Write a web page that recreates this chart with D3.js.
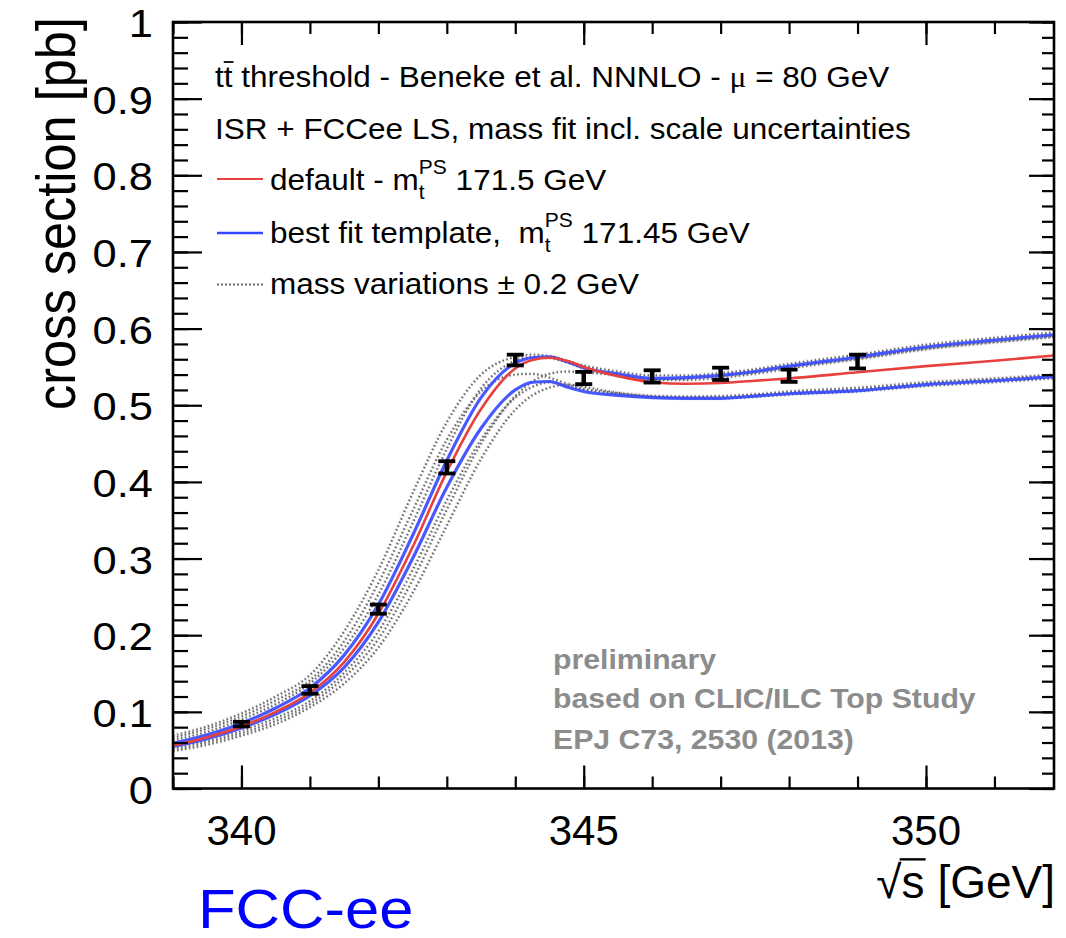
<!DOCTYPE html>
<html><head><meta charset="utf-8">
<script src="https://cdn.jsdelivr.net/npm/d3@7"></script>
<style>body{margin:0;background:#fff}svg{display:block}text{font-family:"Liberation Sans",Arial,sans-serif;white-space:pre}</style>
</head><body>
<svg id="c" width="1066" height="938"></svg>
<script>
// ---------------- data ----------------
const sGrid = [339,339.5,340,340.5,341,341.5,342,342.5,343,343.5,344,344.25,344.5,344.75,345,345.5,346,346.5,347,347.5,348,349,350,351,352];
const redDefault = [0.056,0.067,0.081,0.100,0.125,0.165,0.228,0.315,0.413,0.495,0.548,0.559,0.562,0.558,0.550,0.538,0.530,0.528,0.529,0.532,0.535,0.543,0.551,0.558,0.566];
const blueUpper  = [0.059,0.070,0.085,0.105,0.131,0.174,0.240,0.330,0.428,0.510,0.555,0.562,0.563,0.557,0.549,0.541,0.535,0.536,0.539,0.544,0.551,0.563,0.576,0.585,0.593];
const blueLower  = [0.055,0.065,0.079,0.097,0.121,0.158,0.217,0.300,0.393,0.470,0.520,0.530,0.531,0.524,0.518,0.513,0.510,0.509,0.509,0.512,0.515,0.519,0.527,0.532,0.538];
const massVarL3  = [0.069,0.081,0.098,0.120,0.148,0.205,0.285,0.385,0.478,0.540,0.563,0.566,0.564,0.558,0.552,0.544,0.539,0.539,0.542,0.547,0.554,0.566,0.579,0.588,0.596];
const massVarL2  = [0.066,0.078,0.094,0.115,0.141,0.192,0.268,0.362,0.455,0.518,0.540,0.541,0.536,0.528,0.521,0.515,0.512,0.511,0.512,0.514,0.518,0.523,0.530,0.535,0.541];
const massVarL1  = [0.063,0.074,0.090,0.110,0.137,0.183,0.253,0.346,0.443,0.522,0.558,0.563,0.562,0.556,0.548,0.539,0.533,0.533,0.536,0.541,0.548,0.560,0.573,0.582,0.590];
const massVarR1  = [0.053,0.062,0.075,0.092,0.114,0.151,0.205,0.285,0.376,0.455,0.510,0.524,0.530,0.526,0.521,0.516,0.512,0.511,0.511,0.514,0.517,0.521,0.529,0.534,0.540];
const massVarR2  = [0.051,0.060,0.072,0.088,0.110,0.145,0.195,0.272,0.364,0.450,0.512,0.531,0.541,0.544,0.543,0.539,0.534,0.535,0.538,0.543,0.550,0.561,0.574,0.583,0.591];
const massVarR3  = [0.049,0.057,0.069,0.084,0.106,0.137,0.184,0.255,0.343,0.430,0.494,0.513,0.523,0.527,0.524,0.516,0.511,0.509,0.509,0.511,0.514,0.518,0.525,0.530,0.536];
const massVars = [massVarL3, massVarL2, massVarL1, massVarR1, massVarR2, massVarR3];

const dataX   = [340,341,342,343,344,345,346,347,348,349];
const dataY   = [0.084,0.1286,0.234,0.419,0.559,0.5355,0.5376,0.541,0.5385,0.557];
const dataErr = [0.003,0.005,0.006,0.008,0.007,0.008,0.008,0.008,0.008,0.009];

const xDomain = [339, 351.87];
const yDomain = [0, 1];
const xMajorTicks = [340, 345, 350];
const xMinorTicks = [339,340,341,342,343,344,345,346,347,348,349,350,351];
const yMajorTicks = [0,0.1,0.2,0.3,0.4,0.5,0.6,0.7,0.8,0.9,1];
const yMinorTicks = d3.range(0, 51).map(i => i / 50);
const yTickLabels = ["0","0.1","0.2","0.3","0.4","0.5","0.6","0.7","0.8","0.9","1"];
const xTickLabels = ["340","345","350"];

// ---------------- layout ----------------
const L = 173, R = 1054, T = 22, B = 788.5;
const RED = "#e8403c", BLUE = "#3347ff", DOT = "#666666";
const svg = d3.select("#c");
const x = d3.scaleLinear().domain(xDomain).range([L, R]);
const y = d3.scaleLinear().domain(yDomain).range([B, T]);

function txt(parent, px, py, str, size, o = {}) {
  const t = parent.append("text")
    .attr("transform", `translate(${px},${py}) ${o.rot ? "rotate(-90) scale(1," + (o.sx || 1) + ")" : "scale(" + (o.sx || 1) + ",1)"}`)
    .attr("font-size", size)
    .attr("text-anchor", o.anchor || "start")
    .attr("fill", o.fill || "#000");
  if (o.weight) t.attr("font-weight", o.weight);
  if (str !== null) t.text(str);
  return t;
}

svg.append("defs").append("clipPath").attr("id", "clip")
  .append("rect").attr("x", L).attr("y", T).attr("width", R - L).attr("height", B - T);

const plot = svg.append("g").attr("clip-path", "url(#clip)");
const line = d3.line().x((d, i) => x(sGrid[i])).y(d => y(d)).curve(d3.curveMonotoneX);

// mass variation dotted curves
massVars.forEach(arr => {
  plot.append("path").attr("d", line(arr)).attr("fill", "none")
    .attr("stroke", "#b5b5b5").attr("stroke-width", 4.2).attr("stroke-opacity", 0.4)
    .attr("stroke-dasharray", "1.6 2.4");
  plot.append("path").attr("d", line(arr)).attr("fill", "none")
    .attr("stroke", DOT).attr("stroke-width", 1.9)
    .attr("stroke-dasharray", "1.6 2.4");
});
// blue templates
[blueUpper, blueLower].forEach(arr => {
  plot.append("path").attr("d", line(arr)).attr("fill", "none")
    .attr("stroke", BLUE).attr("stroke-width", 3.2).attr("stroke-opacity", 0.9);
});
// red default
plot.append("path").attr("d", line(redDefault)).attr("fill", "none")
  .attr("stroke", RED).attr("stroke-width", 2.6);

// data points with error bars
const pts = svg.append("g").attr("stroke", "#000").attr("stroke-width", 3.8);
dataX.forEach((s, i) => {
  const cx = x(s), y1 = y(dataY[i] + dataErr[i]), y2 = y(dataY[i] - dataErr[i]);
  pts.append("line").attr("x1", cx).attr("x2", cx).attr("y1", y1).attr("y2", y2).attr("stroke-width", 4.5);
  pts.append("line").attr("x1", cx - 8.5).attr("x2", cx + 8.5).attr("y1", y1).attr("y2", y1);
  pts.append("line").attr("x1", cx - 8.5).attr("x2", cx + 8.5).attr("y1", y2).attr("y2", y2);
});

// ---------------- axes ----------------
function styleAxis(g) { g.select(".domain").remove(); g.selectAll("line").attr("stroke", "#000").attr("stroke-width", 2.2); }
svg.append("g").attr("transform", `translate(0,${B})`).call(d3.axisBottom(x).tickValues(xMinorTicks).tickSize(-12).tickFormat("")).call(styleAxis);
svg.append("g").attr("transform", `translate(0,${B})`).call(d3.axisBottom(x).tickValues(xMajorTicks).tickSize(-23).tickFormat("")).call(styleAxis);
svg.append("g").attr("transform", `translate(0,${T})`).call(d3.axisTop(x).tickValues(xMinorTicks).tickSize(-12).tickFormat("")).call(styleAxis);
svg.append("g").attr("transform", `translate(0,${T})`).call(d3.axisTop(x).tickValues(xMajorTicks).tickSize(-23).tickFormat("")).call(styleAxis);
svg.append("g").attr("transform", `translate(${L},0)`).call(d3.axisLeft(y).tickValues(yMinorTicks).tickSize(-15).tickFormat("")).call(styleAxis);
svg.append("g").attr("transform", `translate(${L},0)`).call(d3.axisLeft(y).tickValues(yMajorTicks).tickSize(-29).tickFormat("")).call(styleAxis);
svg.append("g").attr("transform", `translate(${R},0)`).call(d3.axisRight(y).tickValues(yMinorTicks).tickSize(-12).tickFormat("")).call(styleAxis);
svg.append("g").attr("transform", `translate(${R},0)`).call(d3.axisRight(y).tickValues(yMajorTicks).tickSize(-25).tickFormat("")).call(styleAxis);
svg.append("rect").attr("x", L).attr("y", T).attr("width", R - L).attr("height", B - T)
  .attr("fill", "none").attr("stroke", "#000").attr("stroke-width", 2.6);

// tick labels
yMajorTicks.forEach((v, i) => txt(svg, 153, y(v) + 15, yTickLabels[i], 39.5, { anchor: "end", sx: 1.1 }));
xMajorTicks.forEach((v, i) => txt(svg, x(v), 845, xTickLabels[i], 42, { anchor: "middle" }));

// axis titles
txt(svg, 75, 410, "cross section [pb]", 50.5, { rot: true, sx: 1.1 });
const XT = 1055, XB = 898, XFS = 46;
const xt = txt(svg, XT, XB, "\u221As [GeV]", XFS, { anchor: "end" });
{
  const n = xt.node();
  const total = n.getComputedTextLength();
  const wSqrt = n.getSubStringLength(0, 1), wS = n.getSubStringLength(1, 1);
  const x0 = XT - total;
  svg.append("line").attr("x1", x0 + wSqrt - 2).attr("x2", x0 + wSqrt + wS + 1)
    .attr("y1", XB - 0.84 * XFS).attr("y2", XB - 0.84 * XFS).attr("stroke", "#000").attr("stroke-width", 2.4);
}

// legend
const LS = 30, LSX = 1.05;
const l1 = txt(svg, 215, 87, null, LS, { sx: LSX });
l1.append("tspan").text("tt threshold - Beneke et al. NNNLO - ");
l1.append("tspan").attr("font-family", "Liberation Serif, serif").text("\u03bc");
l1.append("tspan").text(" = 80 GeV");
{
  const n = l1.node();
  const w1 = n.getSubStringLength(0, 1), w2 = n.getSubStringLength(1, 1);
  svg.append("line").attr("x1", 215 + w1 * LSX).attr("x2", 215 + (w1 + w2) * LSX + 1)
    .attr("y1", 87 - 25).attr("y2", 87 - 25).attr("stroke", "#000").attr("stroke-width", 1.8);
}
txt(svg, 215, 138.5, "ISR + FCCee LS, mass fit incl. scale uncertainties", LS, { sx: LSX });

function massLabel(py, pre, post) {
  const t = txt(svg, 270, py, null, LS, { sx: LSX });
  t.append("tspan").text(pre + "m");
  t.append("tspan").attr("font-size", 20).attr("dy", 9).text("t");
  t.append("tspan").attr("font-size", 20).attr("dx", -5.5).attr("dy", -25).text("PS");
  t.append("tspan").attr("dy", 16).text(post);
}
massLabel(189.5, "default - ", " 171.5 GeV");
massLabel(243, "best fit template,  ", " 171.45 GeV");
txt(svg, 270, 293.5, "mass variations \u00b1 0.2 GeV", LS, { sx: LSX });

svg.append("line").attr("x1", 217).attr("x2", 263).attr("y1", 179).attr("y2", 179).attr("stroke", RED).attr("stroke-width", 2.2);
svg.append("line").attr("x1", 217).attr("x2", 263).attr("y1", 233).attr("y2", 233).attr("stroke", BLUE).attr("stroke-width", 2.6);
svg.append("line").attr("x1", 217).attr("x2", 263).attr("y1", 284.5).attr("y2", 284.5).attr("stroke", DOT).attr("stroke-width", 1.8).attr("stroke-dasharray", "2 2");

// preliminary note
const GR = "#8c8c8c";
txt(svg, 553, 668.5, "preliminary", 27.5, { sx: 1.1, fill: GR, weight: "bold" });
txt(svg, 553, 707.5, "based on CLIC/ILC Top Study", 27.5, { sx: 1.1, fill: GR, weight: "bold" });
txt(svg, 553, 748.5, "EPJ C73, 2530 (2013)", 27.5, { sx: 1.1, fill: GR, weight: "bold" });

// FCC-ee label
txt(svg, 198, 928, "FCC-ee", 55, { sx: 1.12, fill: "#0000ff" });
</script>
</body></html>
